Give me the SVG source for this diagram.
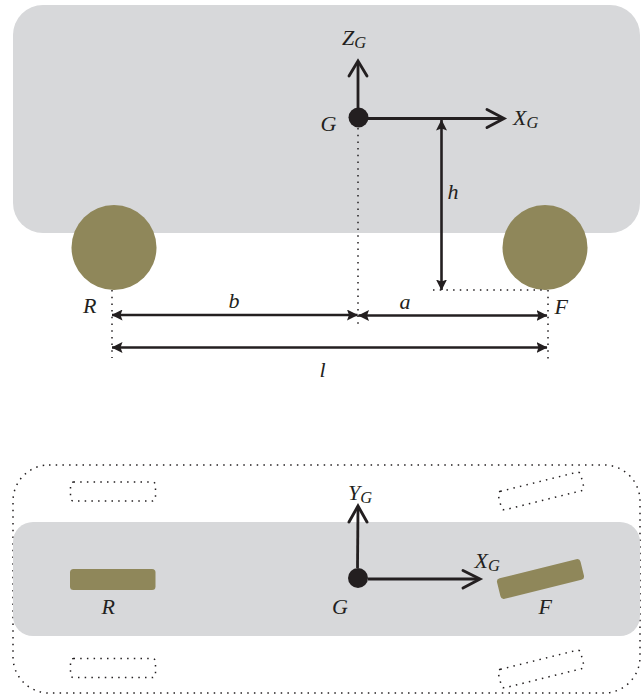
<svg xmlns="http://www.w3.org/2000/svg" width="643" height="695" viewBox="0 0 643 695">
<style>
.body{fill:#d7d8da}
.tyre{fill:#8f875a}
.ln{fill:none;stroke:#231f20;stroke-width:2.8}
.open{fill:none;stroke:#231f20;stroke-width:2.9;stroke-linecap:round;stroke-linejoin:miter}
.dim{fill:none;stroke:#231f20;stroke-width:2.6;marker-start:url(#tip);marker-end:url(#tip)}
.dot{fill:none;stroke:#231f20;stroke-width:1.500;stroke-dasharray:1.500 5.200}
.pt{fill:#231f20}
text{font-family:"Liberation Serif","Times New Roman",serif;font-style:italic;font-size:22px;fill:#231f20}
.sub{font-size:16.500px}
</style>
<defs>
<marker id="tip" viewBox="0 0 11 11" refX="10.500" refY="5.500" markerWidth="11" markerHeight="11" markerUnits="userSpaceOnUse" orient="auto-start-reverse"><path d="M0 0L11 5.500L0 11L2 5.500Z" fill="#231f20"/></marker>
</defs>

<g id="side-body"><rect class="body" x="13" y="5" width="627" height="228" rx="30"/></g>
<g id="side-wheel-r"><circle class="tyre" cx="114" cy="247.500" r="42.500"/></g>
<g id="side-wheel-f"><circle class="tyre" cx="545" cy="247.500" r="42.500"/></g>

<g id="top-outline"><rect class="dot" x="13" y="465" width="627" height="228" rx="36"/></g>
<g id="top-body"><rect class="body" x="13" y="522" width="627" height="114" rx="20"/></g>
<g id="top-wheel-r"><rect class="tyre" x="70" y="569" width="85.500" height="21" rx="3.500"/></g>
<g id="top-wheel-f"><rect class="tyre" x="497.500" y="568.500" width="86" height="21" rx="3.500" transform="rotate(-14 540.500 579)"/></g>
<g id="ghost-rl"><rect class="dot" x="70.500" y="482" width="85" height="19" rx="3"/></g>
<g id="ghost-rr"><rect class="dot" x="70.500" y="658.500" width="85" height="19" rx="3"/></g>
<g id="ghost-fl"><rect class="dot" x="498.500" y="481.500" width="85" height="19" rx="3" transform="rotate(-14 541 491)"/></g>
<g id="ghost-fr"><rect class="dot" x="498.500" y="659.500" width="85" height="19" rx="3" transform="rotate(-14 541 669)"/></g>

<g id="connectors">
<path class="dot" d="M358 128V327"/>
<path class="dot" d="M433 290H547"/>
<path class="dot" d="M548 290V360"/>
<path class="dot" d="M112 290V358"/>
<path class="ln" d="M358 108V62"/>
<path class="open" d="M349 76L358 61L367 76"/>
<path class="ln" d="M368 118.500H503"/>
<path class="open" d="M487 109.500L504 118.500L487 127.500"/>
<path class="dim" d="M441.500 120V290"/>
<path class="dim" d="M112 315H357.500"/>
<path class="dim" d="M358.500 315.500H547"/>
<path class="dim" d="M112 347.500H547"/>
<path class="ln" d="M357.500 568L358 508"/>
<path class="open" d="M349 522L358 506L367 522"/>
<path class="ln" d="M368 579H479"/>
<path class="open" d="M463 570.500L480 579L463 588"/>
</g>

<g id="point-g-side"><circle class="pt" cx="358.500" cy="117.500" r="10"/></g>
<g id="point-g-top"><circle class="pt" cx="358" cy="578" r="10"/></g>

<g id="labels">
<text x="342" y="45">Z<tspan class="sub" dy="3">G</tspan></text>
<text x="513" y="125">X<tspan class="sub" dy="3">G</tspan></text>
<text x="320.500" y="131">G</text>
<text x="447.500" y="199">h</text>
<text x="83" y="313">R</text>
<text x="228.500" y="308">b</text>
<text x="399.500" y="309">a</text>
<text x="554.500" y="314">F</text>
<text x="319.500" y="377">l</text>
<text x="348" y="500">Y<tspan class="sub" dy="3">G</tspan></text>
<text x="474.500" y="568">X<tspan class="sub" dy="3">G</tspan></text>
<text x="332" y="614">G</text>
<text x="101.500" y="614">R</text>
<text x="538.500" y="614">F</text>
</g>
</svg>
